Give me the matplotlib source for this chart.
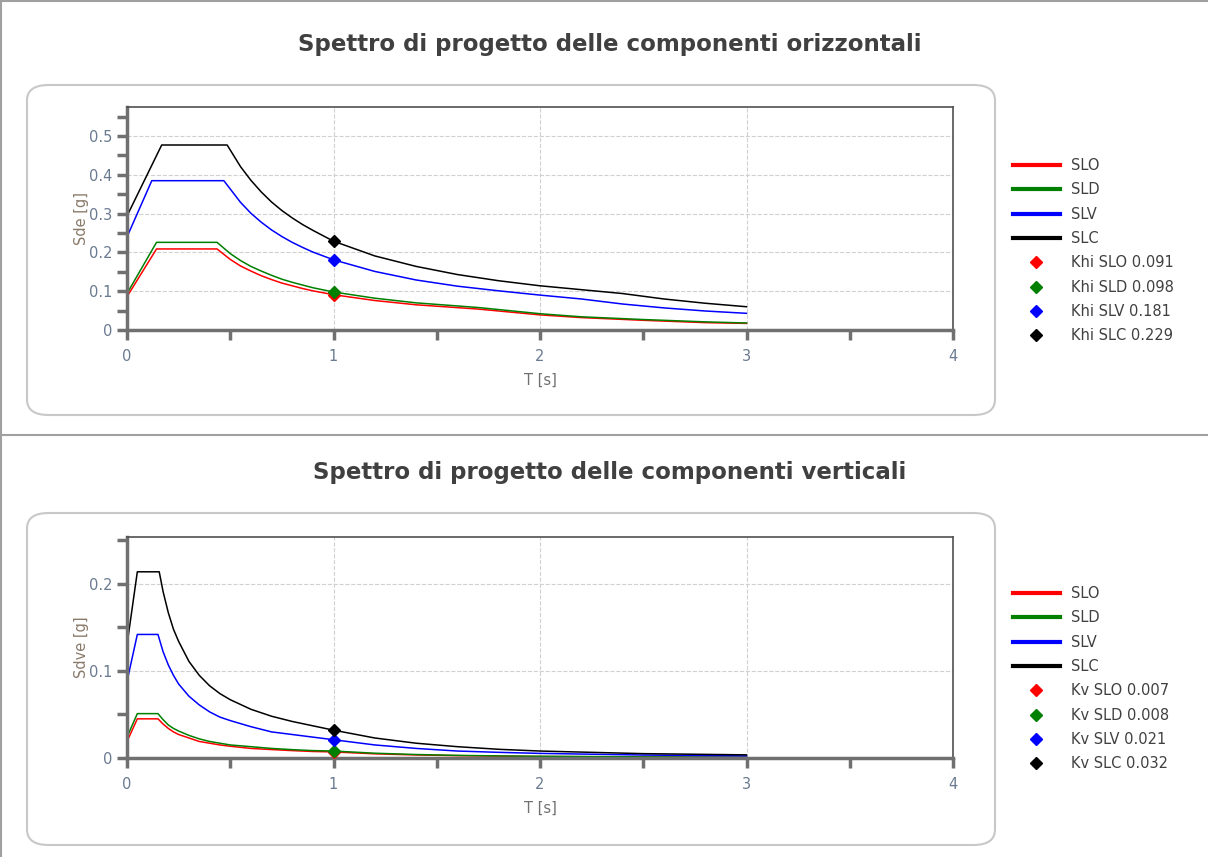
import matplotlib
matplotlib.use("Agg")
from matplotlib import pyplot as plt
from matplotlib.lines import Line2D
from matplotlib.patches import FancyBboxPatch
from matplotlib.ticker import MultipleLocator

# spettro orizzontale
t_slo_h = [0, 0.143, 0.436, 0.5, 0.55, 0.6, 0.65, 0.7, 0.75, 0.8, 0.85, 0.9, 1.0, 1.2, 1.4, 1.7, 2.0, 2.2, 2.5, 2.8, 3.0]
slo_h = [0.086, 0.209, 0.209, 0.182, 0.165, 0.152, 0.140, 0.130, 0.121, 0.114, 0.107, 0.101, 0.091, 0.076, 0.065, 0.054, 0.039, 0.032, 0.025, 0.019, 0.017]
t_sld_h = [0, 0.143, 0.436, 0.5, 0.55, 0.6, 0.65, 0.7, 0.75, 0.8, 0.85, 0.9, 1.0, 1.2, 1.4, 1.7, 2.0, 2.2, 2.5, 2.8, 3.0]
sld_h = [0.094, 0.226, 0.226, 0.197, 0.179, 0.164, 0.152, 0.141, 0.131, 0.123, 0.116, 0.109, 0.098, 0.082, 0.070, 0.058, 0.042, 0.034, 0.027, 0.021, 0.018]
t_slv_h = [0, 0.12, 0.469, 0.55, 0.6, 0.65, 0.7, 0.75, 0.8, 0.85, 0.9, 1.0, 1.2, 1.4, 1.6, 1.8, 2.0, 2.2, 2.4, 2.6, 2.8, 3.0]
slv_h = [0.240, 0.385, 0.385, 0.329, 0.301, 0.278, 0.258, 0.241, 0.226, 0.213, 0.201, 0.181, 0.151, 0.129, 0.113, 0.101, 0.090, 0.080, 0.067, 0.057, 0.049, 0.043]
t_slc_h = [0, 0.168, 0.485, 0.55, 0.6, 0.65, 0.7, 0.75, 0.8, 0.85, 0.9, 1.0, 1.2, 1.4, 1.6, 1.8, 2.0, 2.2, 2.4, 2.6, 2.8, 3.0]
slc_h = [0.294, 0.477, 0.477, 0.421, 0.386, 0.356, 0.330, 0.308, 0.289, 0.272, 0.257, 0.229, 0.191, 0.164, 0.143, 0.127, 0.114, 0.104, 0.094, 0.080, 0.069, 0.060]

# spettro verticale
t_v = [0, 0.05, 0.15, 0.175, 0.2, 0.225, 0.25, 0.3, 0.35, 0.4, 0.45, 0.5, 0.6, 0.7, 0.8, 0.9, 1.0, 1.2, 1.4, 1.6, 1.8, 2.0, 2.5, 3.0]
slo_v = [0.019, 0.045, 0.045, 0.039, 0.034, 0.030, 0.027, 0.023, 0.019, 0.017, 0.015, 0.0135, 0.011, 0.0097, 0.0085, 0.0075, 0.007, 0.0048, 0.0035, 0.0027, 0.0021, 0.0017, 0.0011, 0.0008]
sld_v = [0.024, 0.051, 0.051, 0.044, 0.038, 0.034, 0.031, 0.026, 0.022, 0.019, 0.017, 0.015, 0.013, 0.011, 0.0096, 0.0085, 0.008, 0.0055, 0.004, 0.003, 0.0024, 0.002, 0.0013, 0.0009]
slv_v = [0.088, 0.142, 0.142, 0.122, 0.107, 0.095, 0.085, 0.071, 0.061, 0.053, 0.047, 0.043, 0.036, 0.030, 0.027, 0.024, 0.021, 0.015, 0.011, 0.008, 0.0065, 0.0053, 0.0034, 0.0024]
t_slc_v = [0, 0.05, 0.156, 0.175, 0.2, 0.225, 0.25, 0.3, 0.35, 0.4, 0.45, 0.5, 0.6, 0.7, 0.8, 0.9, 1.0, 1.2, 1.4, 1.6, 1.8, 2.0, 2.5, 3.0]
slc_v = [0.130, 0.214, 0.214, 0.191, 0.167, 0.148, 0.134, 0.111, 0.095, 0.083, 0.074, 0.067, 0.056, 0.048, 0.042, 0.037, 0.032, 0.023, 0.017, 0.013, 0.010, 0.008, 0.005, 0.0036]

states = ["SLO", "SLD", "SLV", "SLC"]
colors = ["#ff0000", "#008000", "#0000ff", "#000000"]
khi = [0.091, 0.098, 0.181, 0.229]
kv = [0.007, 0.008, 0.021, 0.032]
t_k = 1.0

W, H = 1208, 857
fig = plt.figure(figsize=(W / 100, H / 100), dpi=100)

def px(x0, y0, x1, y1):
    # rettangolo in pixel -> coordinate figura
    return [x0 / W, 1 - y1 / H, (x1 - x0) / W, (y1 - y0) / H]

# cornice e separatore
fig.add_artist(Line2D([0, 1], [1 - 1 / H, 1 - 1 / H], color="#a0a0a0", lw=1.5))
fig.add_artist(Line2D([1 / W, 1 / W], [0, 1], color="#a0a0a0", lw=1.5))
fig.add_artist(Line2D([0, 1], [1 - 435 / H, 1 - 435 / H], color="#a0a0a0", lw=1.5))

for y0, y1 in [(85, 415), (513, 845)]:
    r = px(27, y0, 995, y1)
    fig.add_artist(FancyBboxPatch((r[0], r[1]), r[2], r[3],
                                  boxstyle="round,pad=0,rounding_size=0.018",
                                  transform=fig.transFigure, fc="white",
                                  ec="#c8c8c8", lw=1.5, zorder=-5))

fig.text(610 / W, 1 - 45 / H, "Spettro di progetto delle componenti orizzontali",
         ha="center", va="center", fontsize=16.5, fontweight="bold", color="#404040")
fig.text(610 / W, 1 - 473 / H, "Spettro di progetto delle componenti verticali",
         ha="center", va="center", fontsize=16.5, fontweight="bold", color="#404040")

panels = [
    (px(127, 107, 953, 330), [(t_slo_h, slo_h), (t_sld_h, sld_h), (t_slv_h, slv_h), (t_slc_h, slc_h)],
     khi, "Khi", "Sde [g]", 0.575, 0.1, (1000 / W, 1 - 145 / H)),
    (px(127, 537, 953, 758), [(t_v, slo_v), (t_v, sld_v), (t_v, slv_v), (t_slc_v, slc_v)],
     kv, "Kv", "Sdve [g]", 0.254, 0.1, (1000 / W, 1 - 573 / H)),
]

for rect, series, kvals, kname, ylab, ymax, ymaj, leg_pos in panels:
    ax = fig.add_axes(rect)
    ax.patch.set_alpha(0)
    handles = []
    for (t, s), name, c in zip(series, states, colors):
        ax.plot(t, s, color=c, lw=1.1)
        handles.append(Line2D([], [], color=c, lw=3, label=name))
    for k, name, c in zip(kvals, states, colors):
        ax.plot([t_k], [k], ls="none", marker="D", ms=6, color=c, zorder=5)
        handles.append(Line2D([], [], ls="none", marker="D", ms=6, color=c,
                              label=f"{kname} {name} {k:.3f}"))

    ax.set_xlim(0, 4)
    ax.set_ylim(0, ymax)
    ax.xaxis.set_major_locator(MultipleLocator(1))
    ax.xaxis.set_minor_locator(MultipleLocator(0.5))
    ax.yaxis.set_major_locator(MultipleLocator(ymaj))
    ax.yaxis.set_minor_locator(MultipleLocator(0.05))
    ax.yaxis.set_major_formatter(plt.FuncFormatter(lambda v, p: f"{v:g}"))
    ax.grid(True, which="major", color="#d0d0d0", ls="--", lw=0.8)
    ax.set_axisbelow(True)
    for side in ["left", "bottom"]:
        ax.spines[side].set_color("#707070")
        ax.spines[side].set_linewidth(2.5)
    for side in ["top", "right"]:
        ax.spines[side].set_color("#505050")
        ax.spines[side].set_linewidth(1.2)
    ax.tick_params(which="both", direction="out", length=7, width=2.5,
                   color="#707070", labelcolor="#6a7a90", labelsize=10.5)
    ax.tick_params(axis="x", pad=7)
    ax.set_xlabel("T [s]", color="#707070", fontsize=10.5, labelpad=6)
    ax.set_ylabel(ylab, color="#8a7a6a", fontsize=10.5, labelpad=0)

    fig.legend(handles=handles, loc="upper left", bbox_to_anchor=leg_pos,
               frameon=False, fontsize=10.5, handlelength=3.2, handletextpad=0.8,
               labelspacing=0.64, labelcolor="#404040")

plt.savefig("out.png", dpi=100)
